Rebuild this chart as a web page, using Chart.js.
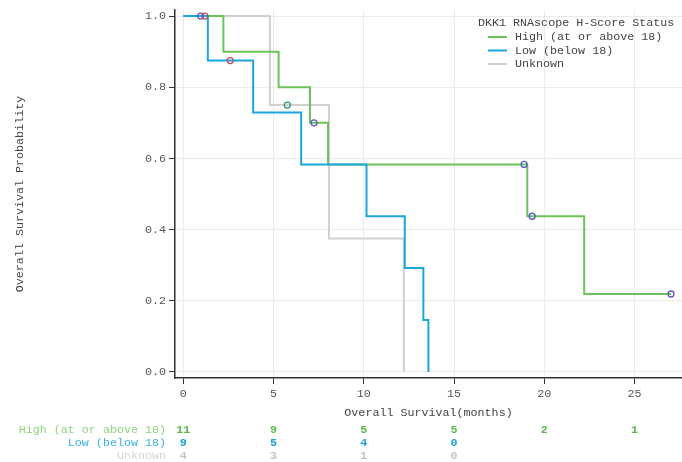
<!DOCTYPE html>
<html>
<head>
<meta charset="utf-8">
<script src="https://cdn.jsdelivr.net/npm/chart.js@4.4.0/dist/chart.umd.min.js"></script>
<style>
  body { margin: 0; background: #fff; }
  #wrap { width: 682px; height: 462px; }
</style>
</head>
<body>
<div id="wrap"><canvas id="km" width="682" height="462"></canvas></div>
<script>
// Kaplan-Meier steps (time in months, survival probability)
let highTimes = [0, 2.22, 5.28, 7.02, 8.02, 19.06, 22.21, 27.02];
let highSurv = [1.0, 0.9, 0.8, 0.7, 0.583, 0.4375, 0.219, 0.219];
let lowTimes = [0, 1.36, 3.87, 6.53, 10.15, 12.27, 13.3, 13.58];
let lowSurv = [1.0, 0.875, 0.729, 0.583, 0.4375, 0.292, 0.146, 0.0];
let unknownTimes = [0, 4.8, 8.07, 12.22];
let unknownSurv = [1.0, 0.75, 0.375, 0.0];

// censored observations
let highCensorTimes = [0.96, 7.24, 18.88, 19.33, 27.02];
let highCensorSurv = [1.0, 0.7, 0.583, 0.4375, 0.219];
let lowCensorTimes = [1.19, 2.6];
let lowCensorSurv = [1.0, 0.875];
let unknownCensorTimes = [5.76];
let unknownCensorSurv = [0.75];

// numbers at risk
let riskTimes = [0, 5, 10, 15, 20, 25];
let highRisk = [11, 9, 5, 5, 2, 1];
let lowRisk = [9, 5, 4, 0];
let unknownRisk = [4, 3, 1, 0];

let groupNames = ['High (at or above 18)', 'Low (below 18)', 'Unknown'];
let xTicks = [0, 5, 10, 15, 20, 25];
let yTicks = [0, 0.2, 0.4, 0.6, 0.8, 1.0];

const mono = "'Liberation Mono', 'DejaVu Sans Mono', monospace";
const green = '#6cc35a';
const blue = '#1ba6e0';
const grey = '#d0d0d0';

function pts(xs, ys) {
    return xs.map((x, i) => ({x: x, y: ys[i]}));
}

function stepLine(label, xs, ys, color, order) {
    return {
        label: label,
        data: pts(xs, ys),
        borderColor: color,
        backgroundColor: color,
        borderWidth: 2,
        stepped: 'before',
        pointRadius: 0,
        fill: false,
        order: order
    };
}

function censorSet(xs, ys, color) {
    return {
        label: 'censor',
        data: pts(xs, ys),
        showLine: false,
        pointRadius: 3,
        pointHoverRadius: 3,
        pointBorderWidth: 1.3,
        pointBorderColor: color,
        pointBackgroundColor: 'rgba(0,0,0,0)',
        order: 0
    };
}

// legend and risk table drawn on the canvas
const extras = {
    id: 'extras',
    afterDraw(chart) {
        const ctx = chart.ctx;
        const xs = chart.scales.x;
        ctx.save();
        ctx.font = '11.7px ' + mono;
        ctx.textBaseline = 'middle';

        // legend
        ctx.fillStyle = '#444';
        ctx.textAlign = 'left';
        ctx.fillText('DKK1 RNAscope H-Score Status', 478, 23);
        const legendCols = [green, blue, grey];
        groupNames.forEach((name, i) => {
            const y = 37 + i * 13.5;
            ctx.strokeStyle = legendCols[i];
            ctx.lineWidth = 2;
            ctx.beginPath();
            ctx.moveTo(488, y);
            ctx.lineTo(507, y);
            ctx.stroke();
            ctx.fillStyle = '#444';
            ctx.fillText(name, 515, y);
        });

        // at-risk table
        const rows = [
            {name: groupNames[0], vals: highRisk, label: '#8fd47c', num: '#5cb84a', y: 430},
            {name: groupNames[1], vals: lowRisk, label: '#3db0e6', num: '#1a9edb', y: 443},
            {name: groupNames[2], vals: unknownRisk, label: '#d6d6d6', num: '#c4c4c4', y: 456}
        ];
        rows.forEach(r => {
            ctx.font = '11.7px ' + mono;
            ctx.textAlign = 'right';
            ctx.fillStyle = r.label;
            ctx.fillText(r.name, 166, r.y);
            ctx.font = 'bold 11.7px ' + mono;
            ctx.textAlign = 'center';
            ctx.fillStyle = r.num;
            r.vals.forEach((v, i) => {
                ctx.fillText(String(v), xs.getPixelForValue(riskTimes[i]), r.y);
            });
        });
        ctx.restore();
    }
};

const chart = new Chart(document.getElementById('km'), {
    type: 'line',
    data: {
        datasets: [
            censorSet(highCensorTimes, highCensorSurv, '#5b5bc8'),
            censorSet(lowCensorTimes, lowCensorSurv, '#c4505e'),
            censorSet(unknownCensorTimes, unknownCensorSurv, '#3f8f86'),
            stepLine(groupNames[1], lowTimes, lowSurv, blue, 1),
            stepLine(groupNames[0], highTimes, highSurv, green, 2),
            stepLine(groupNames[2], unknownTimes, unknownSurv, grey, 3)
        ]
    },
    options: {
        responsive: false,
        devicePixelRatio: 1,
        animation: false,
        layout: { autoPadding: false, padding: { top: 10, right: 0, bottom: 0, left: 0 } },
        plugins: {
            legend: { display: false },
            tooltip: { enabled: false }
        },
        scales: {
            x: {
                type: 'linear',
                min: -0.46,
                max: 27.63,
                afterBuildTicks: s => { s.ticks = xTicks.map(v => ({value: v})); },
                afterFit: s => { s.height = 84; s.paddingLeft = 0; s.paddingRight = 0; },
                ticks: {
                    color: '#555',
                    font: { family: mono, size: 11.7 },
                    padding: 3,
                    maxRotation: 0
                },
                grid: { color: '#ebebeb', lineWidth: 1, tickColor: '#333', tickLength: 6 },
                border: { color: '#333', width: 1.5 },
                title: {
                    display: true,
                    text: 'Overall Survival(months)',
                    color: '#444',
                    font: { family: mono, size: 11.7 },
                    padding: { top: 0, bottom: 42 }
                }
            },
            y: {
                type: 'linear',
                min: -0.017,
                max: 1.017,
                afterBuildTicks: s => { s.ticks = yTicks.map(v => ({value: v})); },
                afterFit: s => { s.width = 175; s.paddingTop = 0; s.paddingBottom = 0; },
                ticks: {
                    color: '#555',
                    font: { family: mono, size: 11.7 },
                    padding: 3,
                    callback: v => Number(v).toFixed(1)
                },
                grid: { color: '#ebebeb', lineWidth: 1, tickColor: '#333', tickLength: 6 },
                border: { color: '#333', width: 1.5 },
                title: {
                    display: true,
                    text: 'Overall Survival Probability',
                    color: '#444',
                    font: { family: mono, size: 11.7 },
                    padding: { top: 13, bottom: 0 }
                }
            }
        }
    },
    plugins: [extras]
});
</script>
</body>
</html>
